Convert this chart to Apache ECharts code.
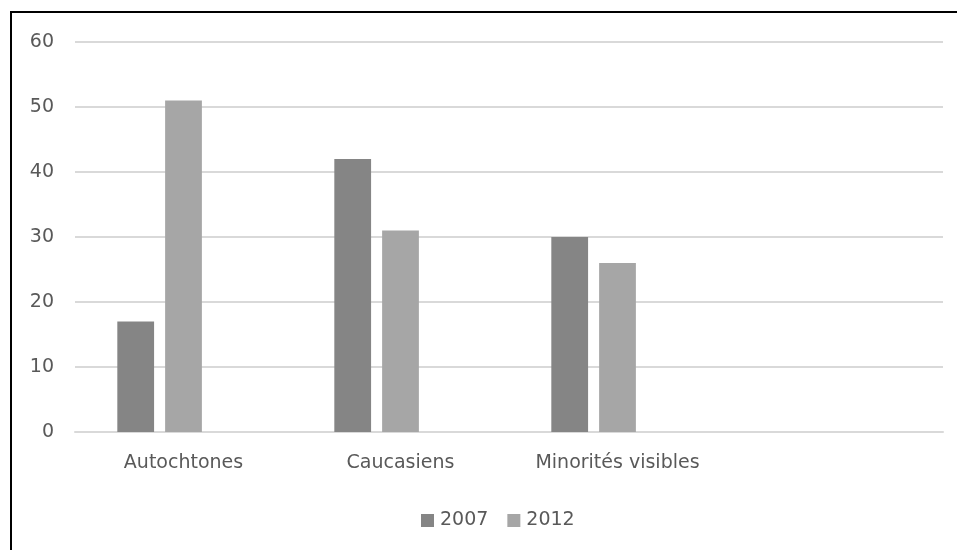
<!DOCTYPE html>
<html>
<head>
<meta charset="utf-8">
<script src="https://cdn.jsdelivr.net/npm/echarts@6/dist/echarts.min.js"></script>
<style>
  html, body { margin: 0; padding: 0; background: #ffffff; }
  #chart { width: 957px; height: 550px; }
</style>
</head>
<body>
<div id="chart"></div>
<script>
// Categories along the x axis (last slot left empty)
const categories = ['Autochtones', 'Caucasiens', 'Minorités visibles', ''];
// Survey values per year
const values2007 = [17, 42, 30, null];
const values2012 = [51, 31, 26, null];
// Third, unlabelled slot kept empty
const valuesBlank = [null, null, null, null];
// Y axis ticks
const yTicks = [0, 10, 20, 30, 40, 50, 60];

const textColor = '#595959';
const fontFamily = 'DejaVu Sans';

const chart = echarts.init(document.getElementById('chart'), null, { renderer: 'canvas' });

chart.setOption({
  animation: false,
  backgroundColor: '#ffffff',
  textStyle: { fontFamily: fontFamily, color: textColor },
  graphic: [{
    type: 'rect',
    shape: { x: 11, y: 12, width: 1000, height: 600 },
    style: { fill: 'none', stroke: '#000000', lineWidth: 2 },
    silent: true
  }],
  grid: { left: 75, right: 14, top: 42, bottom: 118 },
  legend: {
    data: ['2007', '2012'],
    left: 416,
    top: 506,
    itemWidth: 13,
    itemHeight: 13,
    itemGap: 19,
    icon: 'rect',
    textStyle: { fontFamily: fontFamily, fontSize: 19, color: textColor, padding: [0, 0, 0, 1] }
  },
  xAxis: {
    type: 'category',
    data: categories,
    axisLine: { show: true, lineStyle: { color: '#d9d9d9', width: 2 } },
    axisTick: { show: false },
    axisLabel: { fontFamily: fontFamily, fontSize: 19, color: textColor, margin: 22, interval: 0 }
  },
  yAxis: {
    type: 'value',
    min: yTicks[0],
    max: yTicks[yTicks.length - 1],
    interval: yTicks[1] - yTicks[0],
    axisLine: { show: false },
    axisTick: { show: false },
    splitLine: { lineStyle: { color: '#d9d9d9', width: 2 } },
    axisLabel: { fontFamily: fontFamily, fontSize: 19, color: textColor, margin: 21 }
  },
  series: [
    {
      name: '2007', type: 'bar', data: values2007,
      barGap: '30%', barCategoryGap: '39%',
      itemStyle: { color: '#858585' }
    },
    {
      name: '2012', type: 'bar', data: values2012,
      itemStyle: { color: '#a6a6a6' }
    },
    {
      name: ' ', type: 'bar', data: valuesBlank,
      itemStyle: { color: '#c8c8c8' }
    }
  ]
});
</script>
</body>
</html>
